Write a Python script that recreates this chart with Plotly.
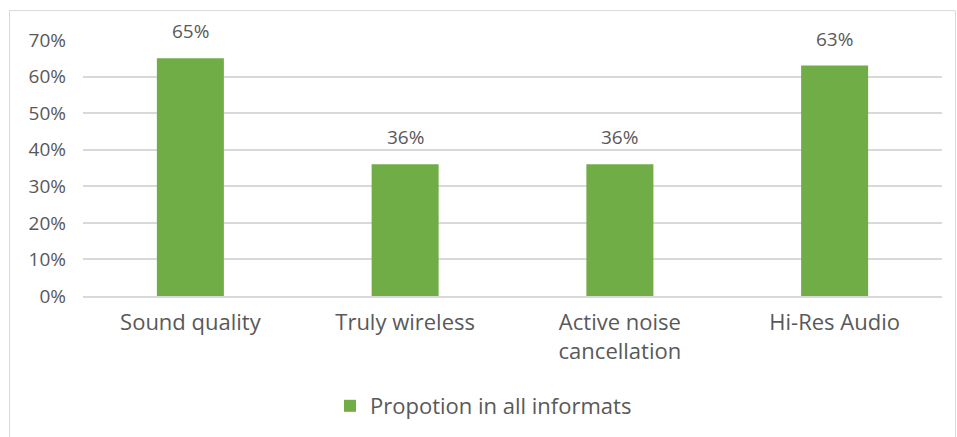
import plotly.graph_objects as go

categories = ["Sound quality", "Truly wireless", "Active noise<br>cancellation", "Hi-Res Audio"]
values = [0.65, 0.36, 0.36, 0.63]
labels = ["65%", "36%", "36%", "63%"]
series_name = "Propotion in all informats"
tick_vals = [0, 0.1, 0.2, 0.3, 0.4, 0.5, 0.6, 0.7]
tick_text = ["0%", "10%", "20%", "30%", "40%", "50%", "60%", "70%"]

FONT = "Open Sans"
GREY = "#595959"
FS = 19      # numbers
FT = 22      # words
W, H = 957, 437
ML, MR, MT, MB = 83, 15, 40, 140
pw = W - ML - MR
ph = H - MT - MB

fig = go.Figure()
fig.add_trace(go.Bar(
    x=categories, y=values, name=series_name,
    marker=dict(color="#70AD47", line=dict(width=0)),
    showlegend=True,
))

for c, v, t in zip(categories, values, labels):
    fig.add_annotation(x=c, y=v, text=t, showarrow=False, yanchor="middle",
                       yshift=27, font=dict(family=FONT, size=FS, color=GREY))

def px_x(p):
    return (p - ML) / pw

def px_y(p):
    return (H - MB - p) / ph

fig.add_shape(type="rect", xref="paper", yref="paper",
              x0=px_x(9.5), x1=px_x(955.5), y0=px_y(445), y1=px_y(10.5),
              line=dict(color="#D9D9D9", width=1), fillcolor="rgba(0,0,0,0)", layer="below")

fig.update_layout(
    width=W, height=H,
    margin=dict(l=ML, r=MR, t=MT, b=MB),
    paper_bgcolor="white", plot_bgcolor="white",
    bargap=0.688,
    font=dict(family=FONT, size=FS, color=GREY),
    legend=dict(orientation="h", x=px_x(330), xanchor="left", y=px_y(406), yanchor="middle",
                font=dict(family=FONT, size=FT, color=GREY), itemwidth=30),
    xaxis=dict(showgrid=False, showline=True, linecolor="#D9D9D9", linewidth=2,
               ticks="", tickfont=dict(family=FONT, size=FT, color=GREY),
               ticklabelstandoff=6),
    yaxis=dict(range=[0, 0.7], tickvals=tick_vals, ticktext=tick_text,
               showgrid=True, gridcolor="#D9D9D9", gridwidth=1.5, zeroline=False,
               showline=False, ticks="", tickfont=dict(family=FONT, size=FS, color=GREY),
               ticklabelstandoff=16),
)

fig.write_html("out.html")
